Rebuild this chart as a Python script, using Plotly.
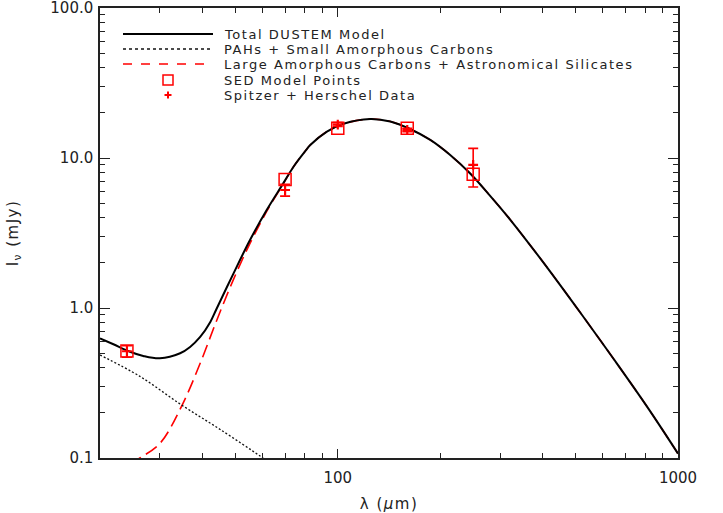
import plotly.graph_objects as go

# ---- data ----
wl_total = [20, 21.9, 24.5, 26.8, 30, 34.4, 36.8, 39.4, 42.2, 44, 49.3, 55.2, 61.8, 69.2, 74.1, 80.2, 83,
            92.9, 104, 124.5, 142.7, 163, 187, 214, 245, 280, 321, 402.8, 516, 647, 811, 1000]
i_total = [0.628, 0.573, 0.511, 0.479, 0.462, 0.499, 0.55, 0.641, 0.807, 0.985, 1.69, 2.84, 4.5, 6.8, 8.75, 11.1, 12.2,
           15.0, 16.9, 18.2, 17.5, 15.6, 13.2, 10.47, 7.88, 5.62, 3.89, 2.0, 0.933, 0.457, 0.220, 0.107]

wl_small = [20, 26.2, 34.7, 45.1, 59.1, 62]
i_small = [0.486, 0.35, 0.226, 0.155, 0.103, 0.095]

wl_large = [24.5, 26.2, 30, 34.7, 39.4, 44, 49.3, 55.2, 61.8, 69.2, 74.1, 80.2, 83, 92.9, 104, 124.5,
            142.7, 163, 187, 214, 245, 280, 321, 402.8, 516, 647, 811, 1000]
i_large = [0.091, 0.1, 0.125, 0.22, 0.428, 0.82, 1.54, 2.70, 4.4, 6.75, 8.75, 11.1, 12.2, 15.0, 16.9, 18.2,
           17.5, 15.6, 13.2, 10.47, 7.88, 5.62, 3.89, 2.0, 0.933, 0.457, 0.220, 0.107]

sed_wl = [24, 70, 100, 160, 250]
sed_model = [0.516, 7.2, 15.8, 15.8, 7.8]

obs_wl = [24, 70, 100, 160, 250]
obs_flux = [0.515, 6.12, 16.7, 15.4, 9.0]
obs_err = [0.045, 0.55, 0.5, 0.4, 2.6]

legend_labels = ["Total DUSTEM Model", "PAHs + Small Amorphous Carbons",
                 "Large Amorphous Carbons + Astronomical Silicates",
                 "SED Model Points", "Spitzer + Herschel Data"]

x_tickvals = [100, 1000]
x_ticktext = ["100", "1000"]
x_minor = [30, 40, 50, 60, 70, 80, 90, 200, 300, 400, 500, 600, 700, 800, 900]
y_tickvals = [0.1, 1, 10, 100]
y_ticktext = ["0.1", "1.0", "10.0", "100.0"]
y_minor = [0.2, 0.3, 0.4, 0.5, 0.6, 0.7, 0.8, 0.9, 2, 3, 4, 5, 6, 7, 8, 9,
           20, 30, 40, 50, 60, 70, 80, 90]

RED = "#ff0000"
INK = "#222222"
FONT = "DejaVu Sans"

fig = go.Figure()

fig.add_trace(go.Scatter(x=wl_large, y=i_large, mode="lines",
                         line=dict(color=RED, width=1.6, dash="13px,6px", shape="spline"),
                         name=legend_labels[2], showlegend=False))
fig.add_trace(go.Scatter(x=wl_small, y=i_small, mode="lines",
                         line=dict(color="#111111", width=1.3, dash="2px,2px", shape="spline"),
                         name=legend_labels[1], showlegend=False))
fig.add_trace(go.Scatter(x=wl_total, y=i_total, mode="lines",
                         line=dict(color="black", width=2, shape="spline"),
                         name=legend_labels[0], showlegend=False))
fig.add_trace(go.Scatter(x=sed_wl, y=sed_model, mode="markers",
                         marker=dict(symbol="square-open", size=12, color=RED, line=dict(width=1.5, color=RED)),
                         name=legend_labels[3], showlegend=False))
fig.add_trace(go.Scatter(x=obs_wl, y=obs_flux, mode="markers",
                         marker=dict(symbol="cross-thin", size=7, color=RED, line=dict(width=2.2, color=RED)),
                         error_y=dict(type="data", array=obs_err, visible=True, color=RED, thickness=1.6, width=5),
                         name=legend_labels[4], showlegend=False))

# ---- hand-drawn legend (IDL style) ----
L, T_, W_, H_ = 100, 8, 578, 450
def px2paper(px, py):
    return (px - L) / W_, (T_ + H_ - py) / H_

rows_py = [34, 49, 64, 80, 95]
x0, _ = px2paper(123, 0)
x1, _ = px2paper(213, 0)
xm, _ = px2paper(168, 0)
xt, _ = px2paper(222, 0)
styles = [dict(color="black", width=2), dict(color="#111111", width=1.3, dash="dot"),
          dict(color=RED, width=1.6, dash="dash")]
for k in range(3):
    _, yy = px2paper(0, rows_py[k])
    fig.add_shape(type="line", xref="paper", yref="paper", x0=x0, x1=x1, y0=yy, y1=yy, line=styles[k])
_, ys = px2paper(0, rows_py[3])
hx, hy = 5 / W_, 5 / H_
fig.add_shape(type="rect", xref="paper", yref="paper", x0=xm - hx, x1=xm + hx, y0=ys - hy, y1=ys + hy,
              line=dict(color=RED, width=1.5))
_, yc = px2paper(0, rows_py[4])
cx, cy = 3.5 / W_, 3.5 / H_
fig.add_shape(type="line", xref="paper", yref="paper", x0=xm - cx, x1=xm + cx, y0=yc, y1=yc, line=dict(color=RED, width=2))
fig.add_shape(type="line", xref="paper", yref="paper", x0=xm, x1=xm, y0=yc - cy, y1=yc + cy, line=dict(color=RED, width=2))
for k, lab in enumerate(legend_labels):
    _, yy = px2paper(0, rows_py[k])
    fig.add_annotation(xref="paper", yref="paper", x=xt, y=yy,
                       text='<span style="letter-spacing:1.55px">' + lab + '</span>', showarrow=False,
                       xanchor="left", yanchor="middle", font=dict(family=FONT, size=13, color=INK))

axis_common = dict(showgrid=False, zeroline=False, showline=True, linecolor=INK, linewidth=1.5,
                   mirror="allticks", ticks="inside", tickcolor=INK, tickwidth=1.3,
                   ticklabeloverflow="allow",
                   tickfont=dict(family=FONT, size=15, color=INK))

fig.update_xaxes(type="log", range=[1.30103, 3.000001], tickmode="array", tickvals=x_tickvals, ticktext=x_ticktext,
                 ticklen=9, ticklabelstandoff=5,
                 minor=dict(tickmode="array", tickvals=x_minor, ticks="inside", ticklen=5, tickcolor=INK, tickwidth=1.2),
                 title=dict(text='<span style="letter-spacing:1.5px">λ (<i>μ</i>m)</span>',
                            font=dict(family=FONT, size=15, color=INK), standoff=13),
                 **axis_common)
fig.update_yaxes(type="log", range=[-1.000001, 2.000001], tickmode="array", tickvals=y_tickvals, ticktext=y_ticktext,
                 ticklen=10, ticklabelstandoff=2,
                 minor=dict(tickmode="array", tickvals=y_minor, ticks="inside", ticklen=5, tickcolor=INK, tickwidth=1.2),
                 title=dict(text='<span style="letter-spacing:1.5px">I<sub>ν</sub> (mJy)</span>',
                            font=dict(family=FONT, size=15, color=INK), standoff=28),
                 **axis_common)

fig.update_layout(width=723, height=513, margin=dict(l=100, r=45, t=8, b=55, autoexpand=False),
                  plot_bgcolor="white", paper_bgcolor="white", showlegend=False,
                  font=dict(family=FONT, size=15, color=INK))

fig.write_html("out.html", config={"displayModeBar": False},
               post_script="document.body.style.margin='0px';")
